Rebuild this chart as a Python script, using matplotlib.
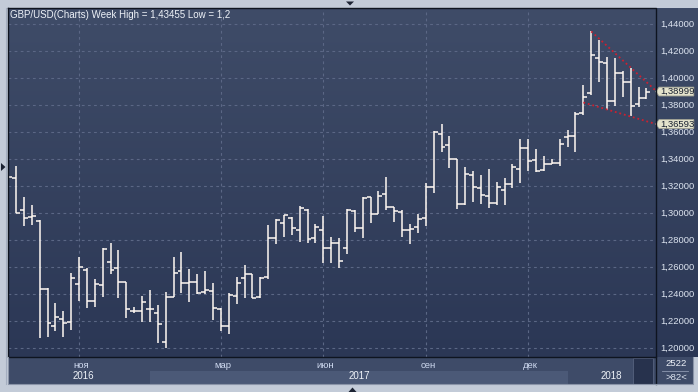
import numpy as np
import matplotlib
matplotlib.use("Agg")
import matplotlib.pyplot as plt
from matplotlib.colors import LinearSegmentedColormap
from matplotlib.patches import Rectangle, Polygon

plt.rcParams['font.family'] = ['Liberation Sans', 'DejaVu Sans']

# weekly GBP/USD bars (open, high, low, close)
opens = [1.3300, 1.3257, 1.3020, 1.2968, 1.2939, 1.2437, 1.2163, 1.2213, 1.2191, 1.2472,
         1.2575, 1.2346, 1.2464, 1.2635, 1.2590, 1.2486, 1.2277, 1.2274, 1.2286, 1.2257,
         1.2042, 1.2378, 1.2570, 1.2479, 1.2486, 1.2418, 1.2422, 1.2289, 1.2163, 1.2383,
         1.2516, 1.2546, 1.2375, 1.2528, 1.2813, 1.2924, 1.2961, 1.2874, 1.3022, 1.2817,
         1.2874, 1.2738, 1.2775, 1.2738, 1.3015, 1.2887, 1.3116, 1.2995, 1.3143, 1.3042,
         1.3005, 1.2872, 1.2899, 1.2961, 1.3190, 1.3585, 1.3501, 1.3398, 1.3069, 1.3279,
         1.3183, 1.3124, 1.3072, 1.3170, 1.3212, 1.3324, 1.3479, 1.3390, 1.3321, 1.3361,
         1.3370, 1.3561, 1.3570, 1.3740, 1.3886, 1.4150, 1.4113, 1.3832, 1.4039, 1.3972,
         1.3809, 1.3853]
highs = [1.3350, 1.3348, 1.3119, 1.3059, 1.2948, 1.2442, 1.2331, 1.2274, 1.2553, 1.2674,
         1.2590, 1.2511, 1.2738, 1.2775, 1.2726, 1.2486, 1.2306, 1.2385, 1.2430, 1.2319,
         1.2415, 1.2674, 1.2711, 1.2583, 1.2548, 1.2570, 1.2479, 1.2294, 1.2405, 1.2528,
         1.2615, 1.2548, 1.2524, 1.2911, 1.2958, 1.2988, 1.2968, 1.3052, 1.3027, 1.2916,
         1.2978, 1.2824, 1.2817, 1.3027, 1.3022, 1.3121, 1.3121, 1.3163, 1.3264, 1.3042,
         1.3022, 1.2916, 1.2993, 1.3220, 1.3610, 1.3659, 1.3570, 1.3398, 1.3343, 1.3311,
         1.3281, 1.3326, 1.3230, 1.3257, 1.3363, 1.3546, 1.3546, 1.3472, 1.3422, 1.3398,
         1.3546, 1.3615, 1.3746, 1.3949, 1.43455, 1.4281, 1.4153, 1.4146, 1.4054, 1.4072,
         1.3936, 1.3924]
lows = [1.3230, 1.2998, 1.2906, 1.2913, 1.2076, 1.2084, 1.2127, 1.2079, 1.2133, 1.2350,
        1.2299, 1.2306, 1.2380, 1.2546, 1.2373, 1.2224, 1.2262, 1.2195, 1.2195, 1.2035,
        1.2000, 1.2378, 1.2405, 1.2343, 1.2398, 1.2398, 1.2207, 1.2127, 1.2106, 1.2326,
        1.2373, 1.2368, 1.2373, 1.2513, 1.2768, 1.2824, 1.2837, 1.2788, 1.2775, 1.2780,
        1.2632, 1.2632, 1.2590, 1.2696, 1.2862, 1.2813, 1.2928, 1.2995, 1.3022, 1.2936,
        1.2824, 1.2768, 1.2850, 1.2906, 1.3150, 1.3449, 1.3336, 1.3027, 1.3060, 1.3084,
        1.3064, 1.3035, 1.3057, 1.3057, 1.3183, 1.3220, 1.3313, 1.3301, 1.3311, 1.3361,
        1.3348, 1.3491, 1.3454, 1.3726, 1.3874, 1.3972, 1.3763, 1.3793, 1.3862, 1.3717,
        1.3788, 1.3842]
closes = [1.3264, 1.2998, 1.2963, 1.2976, 1.2437, 1.2183, 1.2230, 1.2186, 1.2519, 1.2598,
          1.2346, 1.2472, 1.2733, 1.2578, 1.2486, 1.2286, 1.2274, 1.2338, 1.2286, 1.2178,
          1.2378, 1.2556, 1.2479, 1.2486, 1.2410, 1.2430, 1.2296, 1.2163, 1.2390, 1.2479,
          1.2546, 1.2368, 1.2521, 1.2813, 1.2948, 1.2985, 1.2887, 1.3039, 1.2807, 1.2894,
          1.2738, 1.2775, 1.2642, 1.3022, 1.2887, 1.3109, 1.2995, 1.3128, 1.3042, 1.3015,
          1.2872, 1.2879, 1.2958, 1.3190, 1.3600, 1.3491, 1.3398, 1.3064, 1.3287, 1.3190,
          1.3131, 1.3072, 1.3190, 1.3212, 1.3338, 1.3479, 1.3383, 1.3313, 1.3361, 1.3370,
          1.3511, 1.3570, 1.3733, 1.3857, 1.4170, 1.4121, 1.3830, 1.4039, 1.3972, 1.3793,
          1.3853, 1.38999]

# trend lines (bar index, price)
upper_x = [74, 82.2]
upper_y = [1.43455, 1.3906]
lower_x = [73, 82.2]
lower_y = [1.3819, 1.36593]

month_labels = ['ноя', 'мар', 'июн', 'сен', 'дек']
month_bars = [9, 27, 40, 53, 66]
year_labels = ['2016', '2017', '2018']
year_label_pos = [9.6, 44.6, 76.6]
year_starts = [18, 71]
price_ticks = [1.20, 1.22, 1.24, 1.26, 1.28, 1.30, 1.32, 1.34, 1.36, 1.38, 1.40, 1.42, 1.44]
title = 'GBP/USD(Charts) Week High = 1,43455 Low = 1,2'

W, H = 698, 392


def box(x0, y0, x1, y1):
    return [x0 / W, 1 - y1 / H, (x1 - x0) / W, (y1 - y0) / H]


def fmt(v):
    return f'{v:.5f}'.replace('.', ',')


XL = (0.025, 82.18)
YL = (1.1933, 1.4519)
grad = LinearSegmentedColormap.from_list('bg', ['#3f4c68', '#2b3755'])

fig = plt.figure(figsize=(W / 100, H / 100), dpi=100)
fig.patch.set_facecolor('#c3cbd8')

# main price pane
ax = fig.add_axes(box(8.3, 8, 655.7, 357))
ax.set_xlim(*XL)
ax.set_ylim(*YL)
ax.imshow(np.linspace(0, 1, 256).reshape(-1, 1), cmap=grad, aspect='auto',
          extent=[XL[0], XL[1], YL[0], YL[1]], zorder=0)
ax.axis('off')
for p in price_ticks:
    ax.axhline(p, color='#5b6785', lw=0.8, ls=(0, (2.5, 3)), zorder=1)
for m in month_bars:
    ax.axvline(m, color='#5b6785', lw=0.8, ls=(0, (2.5, 3)), zorder=1)

idx = np.arange(len(closes))
bar_col = '#fff8f2'
ax.vlines(idx, lows, highs, color=bar_col, lw=1.1, zorder=3)
ax.hlines(opens, idx - 0.5, idx, color=bar_col, lw=1.1, zorder=3)
ax.hlines(closes, idx, idx + 0.5, color=bar_col, lw=1.1, zorder=3)

ax.plot(upper_x, upper_y, color='#cc2030', lw=1.3, ls=(0, (1, 1.6)), zorder=4)
ax.plot(lower_x, lower_y, color='#cc2030', lw=1.3, ls=(0, (1, 1.6)), zorder=4)

# right price scale
axr = fig.add_axes(box(655.7, 8, 698, 357))
axr.set_xlim(0, 1)
axr.set_ylim(*YL)
axr.imshow(np.linspace(0, 1, 256).reshape(-1, 1), cmap=grad, aspect='auto',
           extent=[0, 1, YL[0], YL[1]], zorder=0)
axr.axis('off')
for p in price_ticks:
    axr.text(0.1, p, fmt(p), color='#dde4f0', fontsize=6.8, ha='left', va='center', zorder=2)
dh = 4.4 / 1350
for v in [closes[-1], lower_y[-1]]:
    axr.add_patch(Polygon([(0, v), (0.08, v + dh), (0.9, v + dh), (0.9, v - dh), (0.08, v - dh)],
                          closed=True, facecolor='#e4e3cc', edgecolor='#a8a898', lw=0.6,
                          zorder=5, clip_on=False))
    axr.text(0.1, v, fmt(v), color='#182030', fontsize=6.8, ha='left', va='center', zorder=6)

# time band
axb = fig.add_axes(box(8.3, 357, 655.7, 384))
axb.set_xlim(*XL)
axb.set_ylim(0, 1)
axb.set_facecolor('#3e4b68')
axb.set_xticks([])
axb.set_yticks([])
for s in axb.spines.values():
    s.set_visible(False)
axb.add_patch(Rectangle((year_starts[0], 0), year_starts[1] - year_starts[0], 0.5,
                        facecolor='#4b5977', edgecolor='none'))
for m, lab in zip(month_bars, month_labels):
    axb.text(m + 0.3, 0.68, lab, color='#cfdaf0', fontsize=6.8, ha='center', va='center')
for pos, lab in zip(year_label_pos, year_labels):
    axb.text(pos, 0.29, lab, color='#eef2f8', fontsize=7, ha='center', va='center')

# frame and decorations in pixel space
deco = fig.add_axes([0, 0, 1, 1], zorder=10)
deco.set_xlim(0, W)
deco.set_ylim(H, 0)
deco.axis('off')
deco.add_patch(Rectangle((633, 358), 20, 25.5, facecolor='#27324d', edgecolor='#56627e', lw=0.6))
deco.add_patch(Rectangle((656, 357), 37, 27, facecolor='#3e4b68', edgecolor='none'))
deco.plot([8.3, 655.7, 655.7, 8.3, 8.3], [8, 8, 357, 357, 8], color='#0e1420', lw=1.0)
deco.plot([655.7, 655.7], [357, 384], color='#0e1420', lw=1.0)
deco.plot([8.3, 8.3, 693, 693], [357, 384, 384, 357], color='#8a94a8', lw=0.8)
deco.plot([6, 6], [8, 384], color='#a4aec0', lw=0.8)
deco.plot([662, 688], [370.5, 370.5], color='#8d98b0', lw=0.6)
deco.text(676, 363.8, '2522', color='#eef2f8', fontsize=6.8, ha='center', va='center')
deco.text(676, 377.5, '>82<', color='#dde4f0', fontsize=6.8, ha='center', va='center')
deco.add_patch(Polygon([(346, 1.5), (354, 1.5), (350, 5.5)], closed=True, facecolor='#1c2333'))
deco.add_patch(Polygon([(1, 163), (1, 171), (5.5, 167)], closed=True, facecolor='#1c2333'))
deco.add_patch(Polygon([(348.5, 392), (356.5, 392), (352.5, 387.5)], closed=True, facecolor='#1c2333'))
deco.text(10, 15, title, color='#eef2f8', fontsize=7, ha='left', va='center')

fig.savefig('out.png', dpi=100, facecolor=fig.get_facecolor())
